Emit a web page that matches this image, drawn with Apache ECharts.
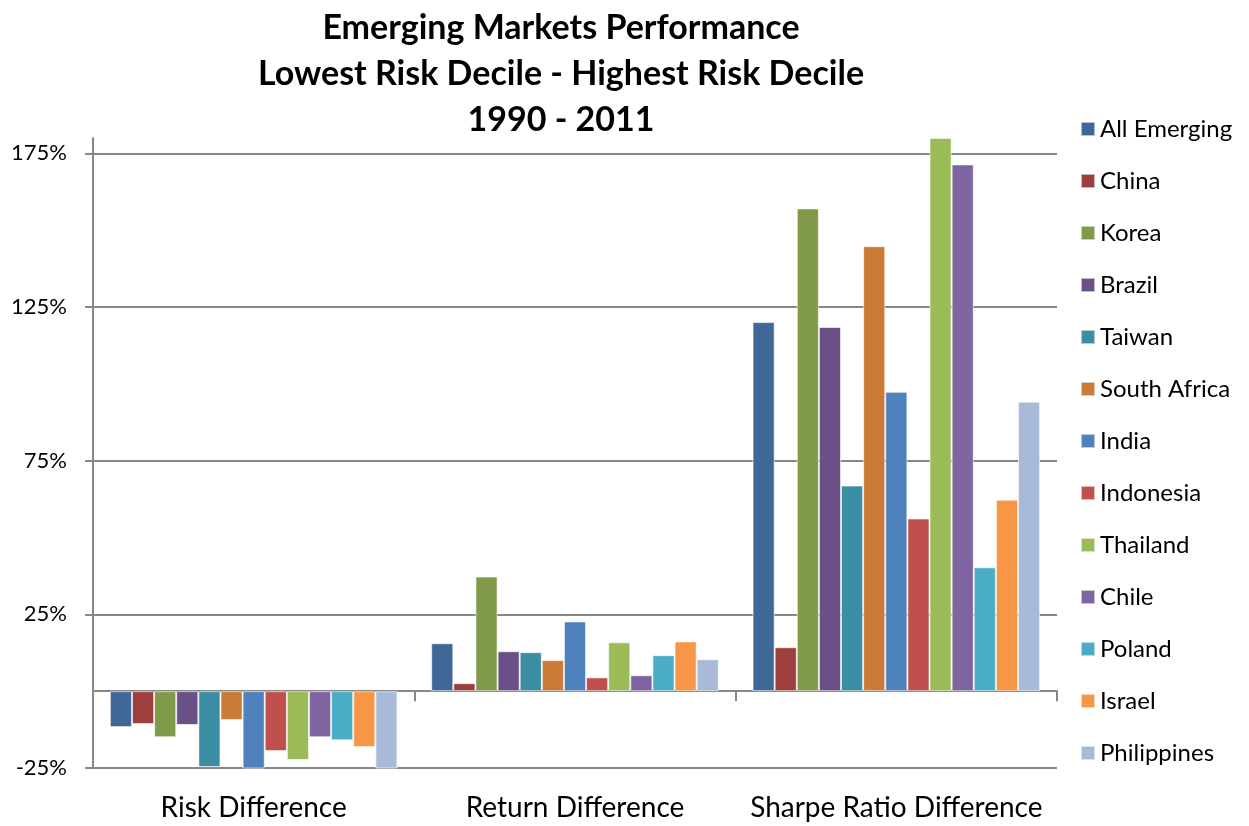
<!DOCTYPE html>
<html>
<head>
<meta charset="utf-8">
<script src="https://cdn.jsdelivr.net/npm/echarts@6/dist/echarts.min.js"></script>
<style>
  html, body { margin: 0; padding: 0; background: #fff; }
  #chart { width: 1249px; height: 826px; }
</style>
</head>
<body>
<div id="chart"></div>
<script>
var categories = ["Risk Difference", "Return Difference", "Sharpe Ratio Difference"];

var countries = ["All Emerging", "China", "Korea", "Brazil", "Taiwan", "South Africa",
  "India", "Indonesia", "Thailand", "Chile", "Poland", "Israel", "Philippines"];

// values in %, one array per category, in country order
var riskDiff = [-11.7, -10.7, -15, -11, -24.7, -9.4, -25.6, -19.5, -22.4, -15, -16, -18.2, -25.3];
var returnDiff = [15.6, 2.6, 37.3, 13, 12.7, 10.1, 22.7, 4.5, 15.9, 5.2, 11.7, 16.2, 10.4];
var sharpeDiff = [120.1, 14.3, 157.1, 118.5, 66.9, 144.8, 97.4, 56.2, 180, 171.4, 40.3, 62.3, 94.2];

var colors = ["#3f6899", "#9c3f3d", "#809a4a", "#6a5086", "#3a8da2", "#cb7b36",
  "#4f81bd", "#c0504d", "#9bbb59", "#8064a2", "#4bacc6", "#f79646", "#a9bad8"];

var font = "Lato, 'Open Sans', sans-serif";

var series = countries.map(function (name, i) {
  return {
    name: name,
    type: "bar",
    xAxisIndex: 0,
    data: [riskDiff[i], returnDiff[i], sharpeDiff[i]],
    barGap: "0%",
    barCategoryGap: "10.5%",
    itemStyle: {
      color: colors[i],
      borderColor: "rgba(255,255,255,0.6)",
      borderWidth: 1
    }
  };
});

var chart = echarts.init(document.getElementById("chart"), null, { renderer: "canvas" });

chart.setOption({
  animation: false,
  color: colors,
  title: {
    text: "Emerging Markets Performance\nLowest Risk Decile - Highest Risk Decile\n1990 - 2011",
    left: 556,
    top: 0,
    textAlign: "center",
    textStyle: {
      fontFamily: font,
      fontSize: 34,
      fontWeight: "bold",
      color: "#000",
      lineHeight: 46
    }
  },
  legend: {
    orient: "vertical",
    left: 1075,
    top: 112,
    itemWidth: 14,
    itemHeight: 14,
    itemGap: 28,
    icon: "rect",
    textStyle: { fontFamily: font, fontSize: 24, color: "#000", lineHeight: 23 },
    data: countries
  },
  grid: {
    left: 93,
    right: 192,
    top: 138,
    bottom: 58,
    containLabel: false,
    outerBoundsMode: "none"
  },
  xAxis: [
    {
      // zero line with category separators
      type: "category",
      data: categories,
      axisLine: { onZero: true, lineStyle: { color: "#888", width: 2 } },
      axisTick: { show: true, length: 10, lineStyle: { color: "#888", width: 2 } },
      axisLabel: { show: false },
      splitLine: { show: false }
    },
    {
      // category labels under the plot
      type: "category",
      data: categories,
      position: "bottom",
      axisLine: { show: false, onZero: false },
      axisTick: { show: false },
      axisLabel: { fontFamily: font, fontSize: 28, color: "#000", margin: 26, interval: 0 },
      splitLine: { show: false }
    }
  ],
  yAxis: {
    type: "value",
    min: -25,
    max: 180,
    interval: 50,
    axisLine: { show: true, lineStyle: { color: "#888", width: 2 } },
    axisTick: { show: true, length: 8, lineStyle: { color: "#888", width: 2 } },
    axisLabel: {
      fontFamily: font,
      fontSize: 22,
      color: "#000",
      margin: 26,
      showMaxLabel: false,
      formatter: function (v) { return v === 180 ? "" : v + "%"; }
    },
    splitLine: { show: true, showMaxLine: false, lineStyle: { color: "#888", width: 2 } }
  },
  series: series
});
</script>
</body>
</html>
